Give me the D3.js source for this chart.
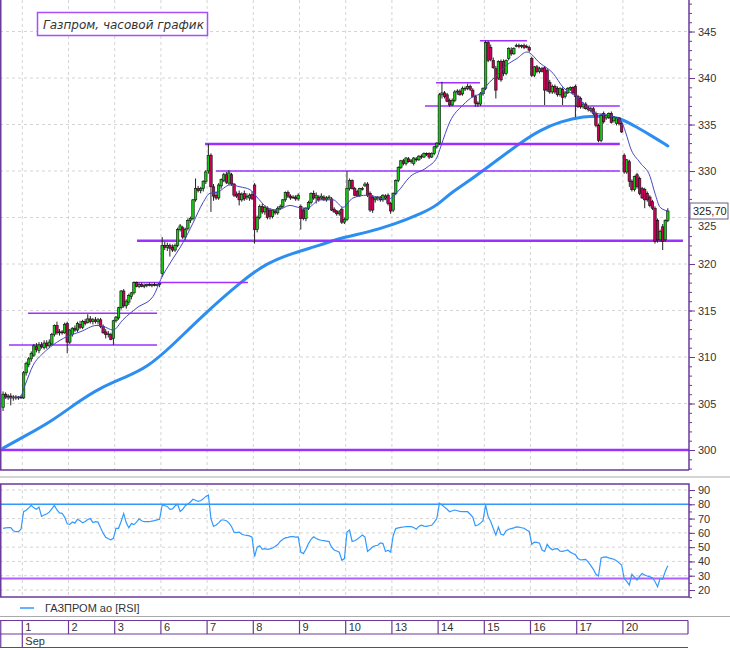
<!DOCTYPE html>
<html><head><meta charset="utf-8">
<script src="https://cdn.jsdelivr.net/npm/d3@7"></script>
<style>body{margin:0;background:#fff}svg{display:block}</style>
</head><body><svg id="c" width="730" height="650"></svg>
<script>
// ---------- DATA ----------
const titleText = "Газпром, часовой график";
const legendText = "ГАЗПРОМ ао [RSI]";
const dayLabels = ["1","2","3","6","7","8","9","10","13","14","15","16","17","20"];
const monthLabel = "Sep";
const lastPriceLabel = "325,70";
const priceTicks = [300,305,310,315,320,325,330,335,340,345];
const rsiTicks = [20,30,40,50,60,70,80,90];

// hourly candles [open, high, low, close]
const ohlcPre = [[304.6,306.3,304.2,306.0],[306.0,306.2,305.5,305.7],[305.7,306.0,305.4,305.8],[305.8,306.1,304.8,305.6],[305.6,305.9,305.3,305.7],[305.7,305.9,305.4,305.6],[305.6,305.8,305.4,305.7],[305.7,305.9,305.5,305.6]];
const ohlc01 = [[305.6,308.5,305.5,308.3],[308.3,309.5,308.0,309.3],[309.2,310.0,308.9,309.8],[309.8,310.6,309.5,310.4],[310.2,311.4,310.0,311.2],[311.1,311.5,310.5,310.8],[310.7,311.6,310.4,311.3],[311.3,311.6,310.9,311.1],[311.0,311.8,310.8,311.5],[311.5,311.8,310.9,311.2],[311.2,311.9,311.0,311.6],[311.4,312.6,311.3,312.4],[312.4,313.5,312.2,313.4],[313.4,313.8,312.4,312.6],[312.6,313.0,312.3,312.7],[312.7,312.9,312.4,312.6],[312.6,313.7,312.5,313.5],[313.6,313.8,310.4,311.6]];
const ohlc02 = [[311.6,313.0,311.4,312.9],[312.4,313.2,312.2,313.1],[313.1,313.4,312.7,312.9],[312.9,313.8,312.7,313.6],[313.5,313.9,313.0,313.2],[313.2,314.0,313.0,313.8],[313.8,314.1,313.4,313.6],[313.7,314.6,313.6,314.1],[314.1,314.4,313.6,313.8],[313.8,314.2,313.5,314.0],[314.0,314.3,313.6,313.8],[313.8,314.2,313.5,314.0],[314.0,314.2,313.1,313.3],[313.3,313.5,312.5,312.6],[312.7,313.0,312.0,312.4],[312.4,312.8,312.1,312.5],[312.4,312.6,311.8,311.9],[312.0,314.0,311.3,313.9]];
const ohlc03 = [[313.9,314.4,313.7,314.3],[314.2,315.4,314.0,315.3],[315.3,317.2,315.1,317.1],[317.1,317.3,315.3,315.5],[315.5,316.2,315.2,316.0],[315.9,316.8,315.6,316.6],[316.5,317.0,316.2,316.9],[316.9,318.1,316.7,318.0],[318.0,318.1,317.5,317.6],[317.6,318.0,317.4,317.8],[317.8,318.0,317.5,317.6],[317.6,317.9,317.4,317.7],[317.7,317.9,317.5,317.8],[317.8,318.0,317.6,317.7],[317.7,317.9,317.5,317.8],[317.8,318.0,317.6,317.7],[317.7,317.9,317.6,317.8],[317.8,318.0,317.5,317.9]];
const ohlc06 = [[319.0,322.9,318.6,322.0],[322.0,322.4,321.5,321.8],[321.8,322.3,321.4,322.0],[322.0,322.2,320.8,321.7],[321.8,322.1,321.3,321.5],[321.5,322.2,321.3,322.0],[322.0,323.9,321.8,323.7],[323.7,324.3,323.5,324.1],[323.9,324.1,322.7,322.9],[322.9,323.9,322.6,323.7],[323.8,324.9,323.6,324.7],[324.7,325.1,324.4,324.9],[324.9,327.0,324.7,326.9],[326.9,329.2,326.7,328.1],[328.1,328.4,327.7,327.9],[327.9,328.3,327.6,328.1],[328.1,329.0,327.8,328.9],[328.9,330.1,328.6,329.9]];
const ohlc07 = [[330.0,332.9,329.7,331.7],[331.7,331.9,325.6,328.3],[328.3,328.6,326.8,327.3],[327.4,327.8,326.9,327.1],[327.1,328.7,326.9,328.5],[328.4,329.2,328.1,329.1],[329.0,329.8,328.8,329.6],[329.6,329.9,328.6,328.8],[328.7,330.1,328.5,329.8],[329.6,329.8,328.4,328.6],[328.6,328.7,327.2,327.4],[327.5,327.8,327.1,327.3],[327.6,327.9,326.3,326.9],[326.9,327.7,326.7,327.5],[327.6,327.9,326.8,327.0],[327.2,327.6,326.9,327.3],[327.1,327.6,326.8,327.4],[327.5,327.8,326.9,327.0]];
const ohlc08 = [[328.5,328.7,322.2,323.7],[323.7,325.2,323.4,325.0],[325.0,326.4,324.8,326.2],[326.2,326.5,325.4,325.6],[325.6,326.3,325.3,326.1],[326.0,326.2,324.8,325.0],[325.8,326.0,324.8,325.1],[325.1,325.9,324.9,325.8],[325.7,325.9,325.3,325.5],[325.5,326.2,325.3,326.0],[326.0,326.4,325.8,326.2],[326.2,327.0,326.0,326.9],[326.9,327.8,326.7,327.7],[327.7,327.9,327.1,327.3],[327.3,327.5,326.9,327.1],[327.2,327.4,327.0,327.2],[327.2,327.4,326.8,327.0],[327.0,327.6,326.8,327.4]];
const ohlc09 = [[326.2,326.4,323.7,324.9],[325.8,326.0,324.7,324.9],[324.9,326.1,324.6,326.0],[326.0,326.8,325.8,326.6],[326.6,327.7,326.4,327.6],[327.6,327.9,326.9,327.1],[327.1,327.7,326.5,327.4],[327.2,327.4,326.7,326.9],[327.1,327.6,326.9,327.3],[327.2,327.4,326.8,326.9],[326.9,327.3,326.7,327.1],[327.1,327.4,326.9,327.2],[327.0,327.2,325.7,325.8],[325.9,326.1,325.5,325.6],[325.7,325.8,325.2,325.4],[325.4,325.8,325.2,325.6],[325.9,326.1,324.3,324.5],[324.5,325.0,324.3,324.8]];
const ohlc10 = [[324.8,330.0,324.6,328.1],[328.1,329.2,327.9,329.0],[329.0,329.1,328.0,328.1],[328.1,328.3,327.3,327.4],[327.8,328.0,327.2,327.3],[327.4,328.2,327.2,328.1],[328.0,328.3,327.9,328.1],[328.4,328.8,328.3,328.6],[328.6,328.8,327.2,327.4],[327.6,327.8,325.6,325.8],[327.2,327.4,325.5,325.8],[326.9,327.2,326.6,327.1],[327.1,327.3,326.8,327.2],[327.2,327.3,326.7,326.9],[326.9,327.5,326.7,327.4],[327.1,327.5,326.9,327.3],[327.4,327.6,326.3,326.5],[326.5,326.7,325.4,325.7]];
const ohlc13 = [[325.8,327.7,325.6,327.6],[327.6,329.1,327.4,329.0],[329.0,330.5,328.8,330.4],[330.4,331.2,330.2,331.1],[331.1,331.3,330.6,330.8],[330.8,331.5,330.6,331.4],[331.3,331.5,330.9,331.0],[331.0,331.3,330.8,331.1],[330.8,331.5,330.6,331.4],[331.3,331.5,331.0,331.2],[331.2,331.7,331.1,331.6],[331.6,331.8,331.3,331.5],[331.5,332.0,331.4,331.9],[331.9,332.0,331.6,331.8],[331.9,332.0,331.3,331.5],[331.5,332.0,331.4,331.9],[331.9,332.7,331.7,332.6],[332.6,333.1,332.4,333.0]];
const ohlc14 = [[333.0,338.4,332.8,338.2],[338.2,339.6,337.8,338.4],[338.4,338.6,337.8,338.0],[338.2,338.4,337.4,337.5],[337.6,337.8,336.9,337.1],[337.1,337.8,337.0,337.6],[337.6,338.7,337.4,338.5],[338.5,338.8,338.2,338.6],[338.6,338.8,338.1,338.2],[338.3,339.1,338.1,338.9],[338.9,339.1,338.6,338.9],[338.9,339.4,338.7,339.1],[339.1,339.3,338.6,338.8],[338.7,338.9,337.9,338.0],[338.0,338.2,336.9,337.3],[337.3,337.5,336.9,337.2],[337.2,338.5,337.0,338.3],[338.3,339.0,338.1,338.9]];
const ohlc15 = [[338.9,344.0,338.7,343.8],[343.8,344.0,341.7,341.9],[343.3,343.6,341.8,342.0],[341.9,342.2,341.0,341.1],[341.0,341.3,337.8,338.7],[340.0,341.9,339.8,341.8],[341.8,342.0,339.6,339.8],[341.8,342.0,340.2,340.5],[340.5,342.0,340.3,341.9],[342.1,343.3,341.9,343.2],[343.0,343.3,342.4,342.6],[342.6,343.3,342.5,343.2],[343.4,343.7,343.3,343.5],[343.5,343.7,343.2,343.4],[343.4,343.6,343.2,343.5],[343.5,343.7,343.1,343.3],[343.4,343.6,343.2,343.4],[343.3,343.5,342.8,343.0]];
const ohlc16 = [[342.1,342.3,340.1,340.3],[340.3,341.3,340.1,341.2],[341.2,341.4,340.5,340.7],[340.7,341.2,340.5,341.0],[341.0,341.2,340.6,340.7],[341.1,341.3,337.1,338.7],[340.8,341.0,338.5,338.7],[339.5,339.8,338.3,338.5],[338.5,339.3,338.3,339.1],[339.1,339.3,338.3,338.5],[338.9,339.1,338.0,338.2],[338.2,339.0,338.0,338.9],[338.8,339.0,337.1,337.9],[338.0,338.6,337.8,338.4],[338.4,339.0,338.3,338.9],[338.8,339.1,338.6,339.0],[339.0,339.1,338.2,338.4],[339.1,339.3,335.8,338.0]];
const ohlc17 = [[338.0,338.2,336.8,336.9],[337.8,338.0,336.7,336.9],[336.9,337.4,336.7,337.2],[337.2,337.4,336.6,336.7],[336.8,337.0,336.4,336.6],[336.5,336.9,336.3,336.7],[336.7,336.9,336.0,336.2],[336.2,336.4,334.7,334.9],[334.9,335.1,333.1,333.3],[333.3,336.2,333.1,336.0],[336.2,336.4,335.1,335.3],[335.7,336.1,335.5,336.0],[335.8,336.3,335.6,336.2],[336.2,336.4,335.1,335.2],[335.4,335.9,335.2,335.8],[335.1,335.8,334.9,335.7],[335.7,335.8,334.9,335.1],[335.1,335.3,334.1,334.2]];
const ohlc20 = [[331.7,331.9,329.7,329.9],[329.9,331.3,329.7,331.2],[331.0,331.2,328.3,328.9],[328.9,329.1,327.8,328.0],[328.0,329.5,327.8,329.4],[329.6,329.8,328.1,328.3],[329.2,329.4,327.4,327.6],[328.1,328.3,327.0,327.1],[328.0,328.2,326.0,326.9],[327.6,327.8,326.7,326.9],[327.2,327.4,326.1,326.3],[326.7,326.9,325.8,326.0],[326.0,326.2,322.2,322.4],[324.7,324.9,322.3,322.6],[322.6,323.7,322.4,323.5],[324.0,324.3,321.5,322.4],[322.6,324.8,322.4,324.7],[324.7,326.0,324.5,325.7]];

// RSI per candle
const rsiPre = [63.2,63.5,63.6,63.6,61.5,60.8,60.8,62.5];
const rsi01 = [74.8,75.8,77.5,79.3,77.5,76.5,78.0,71.5,72.5,73.2,74.5,76.8,79.2,76.0,74.0,73.7,71.0,66.3];
const rsi02 = [65.9,67.6,66.8,69.5,68.5,67.0,68.0,69.4,70.0,67.2,67.8,67.5,63.5,59.8,56.9,55.9,55.2,56.2];
const rsi03 = [63.2,63.2,68.0,73.5,67.0,63.5,66.5,65.8,67.5,69.8,68.5,67.8,67.8,67.8,68.2,68.6,69.1,69.5];
const rsi06 = [79.5,79.0,78.5,76.5,76.8,78.8,80.0,75.0,76.5,79.0,80.2,81.6,83.5,82.8,82.0,82.5,83.8,85.5];
const rsi07 = [86.5,70.0,64.5,65.5,67.0,69.0,69.0,68.5,67.0,64.5,60.5,60.2,60.5,59.0,58.5,58.2,57.9,57.0];
const rsi08 = [43.3,50.0,51.0,48.5,49.0,48.5,48.8,49.4,50.5,51.8,54.0,55.5,56.5,56.8,57.3,57.3,57.0,57.2];
const rsi09 = [46.5,45.5,48.5,52.5,55.5,57.3,56.0,55.3,54.8,54.5,54.2,53.9,50.0,48.0,47.3,46.5,40.8,42.0];
const rsi10 = [60.5,62.0,54.0,54.5,55.5,57.0,58.5,57.0,47.0,48.5,50.2,51.0,51.3,53.0,52.5,47.0,47.8,46.5];
const rsi13 = [58.0,63.0,63.5,63.8,64.1,64.3,64.3,64.3,63.8,62.6,64.5,65.4,64.7,64.5,65.0,65.3,67.5,70.0];
const rsi14 = [80.7,79.5,78.0,76.5,74.8,75.5,76.0,75.5,75.0,74.8,74.8,74.8,73.0,71.0,65.0,65.5,66.8,68.5];
const rsi15 = [79.5,71.5,68.0,63.0,58.5,64.0,59.0,58.5,61.5,62.5,63.0,63.5,64.2,64.0,63.6,63.2,62.0,61.0];
const rsi16 = [52.0,53.5,53.3,52.8,48.0,47.0,52.0,49.5,48.2,48.8,49.0,47.2,47.0,47.5,48.0,46.5,45.5,44.8];
const rsi17 = [42.0,41.0,41.2,41.4,39.5,37.0,34.5,31.0,29.8,42.5,43.0,43.2,42.5,42.0,41.5,40.5,39.0,37.5];
const rsi20 = [28.0,26.0,23.5,31.0,29.0,27.0,29.5,31.5,30.5,29.8,29.2,28.6,26.0,22.3,28.0,27.5,33.0,37.0];

// moving averages: [candle index, value]
const maShort = [[0,305.6],[6.6,305.7],[8.6,307.0],[11.7,309.1],[15.6,310.4],[19.5,311.3],[24.9,312.2],[30,312.7],[36.6,313.4],[39,313.3],[42.9,312.9],[46.7,314.0],[52.2,315.3],[58.4,316.5],[61.9,318.6],[65.1,320.1],[70.1,322.3],[74,324.4],[77.9,326.6],[80.6,327.6],[83.4,327.7],[88.4,328.5],[92.3,328.3],[96.2,328.0],[98.9,327.2],[102.8,326.1],[106.7,325.8],[111.8,326.3],[114.9,326.1],[118.4,326.0],[123.5,326.9],[128.6,326.9],[132.5,326.1],[136.3,327.1],[141.8,327.4],[145.7,327.2],[149.6,326.9],[153.5,327.7],[158.6,329.4],[165.2,330.4],[169.1,331.5],[170.5,332.6],[174.1,335.3],[179.2,337.1],[183.1,338.0],[186.6,338.4],[188.5,339.2],[192.4,340.3],[196.3,341.4],[200.2,342.1],[204.1,342.8],[209.2,341.6],[214.3,340.5],[218.2,339.0],[223.6,338.0],[229.8,336.3],[235.3,336.0],[240.4,335.5],[243.1,333.7],[244.3,332.6],[248.2,330.9],[252.1,329.4],[254,327.6],[256,326.1],[259,325.7]];
const maLong = [[0,300.2],[8.6,301.5],[19.5,303.2],[28.8,305.1],[37.8,306.7],[48.3,307.9],[56.1,308.9],[65.1,311.0],[76.7,314.2],[93.5,318.3],[102.8,320.1],[113,321.2],[123.5,322.0],[131.3,322.8],[141.8,323.4],[151.9,324.2],[163.6,325.5],[169.1,326.3],[174.1,327.6],[182,329.0],[193.6,331.4],[201.4,333.0],[209.2,334.4],[217,335.3],[226,335.9],[235.3,335.9],[240.4,335.7],[247,334.7],[253.2,333.7],[259,332.7]];

// support / resistance levels: [from index, to index, price]
const levelsThick = [[-1,268,300.0],[52.7,265.4,322.5],[79.2,240.8,332.9]];
const levelsThin = [[2.8,60.5,311.3],[10.2,60.5,314.7],[51.1,95.9,318.0],[83.4,240.8,330.0],[164.9,240.8,337.0],[169.2,186.3,339.5],[186.3,204.6,344.0]];
// RSI reference levels
const rsiUpper = 80, rsiLower = 28;

// ---------- BUILD ----------
const ohlcAll = [].concat(ohlcPre,ohlc01,ohlc02,ohlc03,ohlc06,ohlc07,ohlc08,ohlc09,ohlc10,ohlc13,ohlc14,ohlc15,ohlc16,ohlc17,ohlc20);
const rsiAll = [].concat(rsiPre,rsi01,rsi02,rsi03,rsi06,rsi07,rsi08,rsi09,rsi10,rsi13,rsi14,rsi15,rsi16,rsi17,rsi20);
const candles = ohlcAll.map((d,i)=>({i,o:d[0],h:d[1],l:d[2],c:d[3]}));
const preCount = ohlcPre.length, perDay = ohlc01.length;

const svg = d3.select("#c");
const W = 730, axisX = 689;
const dayX0 = 22.3, dayW = 46.2;
const x = d3.scaleLinear().domain([preCount, preCount + perDay*dayLabels.length]).range([dayX0, dayX0 + dayW*dayLabels.length]);
const cx = i => x(i + 0.5);
const y = d3.scaleLinear().domain([297.85, 348.39]).range([470, 0]);
const yr = d3.scaleLinear().domain([20, 90]).range([590, 490]);

const purple = "#6a3a9c", violet = "#9b30ff", gridC = "#d4d4d4";
const font = "Liberation Sans, Arial, sans-serif";
const dayStarts = dayLabels.map((d,k)=>preCount + perDay*k);

// main panel grid
const gMain = svg.append("g");
gMain.selectAll(".hg").data(priceTicks).join("line")
  .attr("x1",0).attr("x2",axisX).attr("y1",d=>y(d)).attr("y2",d=>y(d))
  .attr("stroke",gridC).attr("stroke-dasharray","3,3");
gMain.selectAll(".vg").data(dayStarts).join("line")
  .attr("x1",d=>x(d)).attr("x2",d=>x(d)).attr("y1",0).attr("y2",470)
  .attr("stroke",gridC).attr("stroke-dasharray","3,3");

svg.append("clipPath").attr("id","mainClip").append("rect").attr("x",0).attr("y",0).attr("width",axisX).attr("height",470);
const plot = svg.append("g").attr("clip-path","url(#mainClip)");

// long MA
const lineFn = d3.line().x(d=>cx(d[0])).y(d=>y(d[1])).curve(d3.curveMonotoneX);
const lineSmooth = d3.line().x(d=>cx(d[0])).y(d=>y(d[1])).curve(d3.curveBasis);
plot.append("path").attr("d",lineSmooth(maLong)).attr("fill","none").attr("stroke","#2b8ef0").attr("stroke-width",3).attr("stroke-linecap","round");

// levels
plot.selectAll(".lt").data(levelsThick).join("line")
  .attr("x1",d=>x(d[0])).attr("x2",d=>x(d[1])).attr("y1",d=>y(d[2])).attr("y2",d=>y(d[2]))
  .attr("stroke",violet).attr("stroke-width",2.6);
plot.selectAll(".ln").data(levelsThin).join("line")
  .attr("x1",d=>x(d[0])).attr("x2",d=>x(d[1])).attr("y1",d=>y(d[2])).attr("y2",d=>y(d[2]))
  .attr("stroke",violet).attr("stroke-width",1.5);

// candles
const cg = plot.append("g");
cg.selectAll(".w").data(candles).join("line")
  .attr("x1",d=>cx(d.i)).attr("x2",d=>cx(d.i)).attr("y1",d=>y(d.h)).attr("y2",d=>y(d.l))
  .attr("stroke","#222").attr("stroke-width",1);
cg.selectAll(".b").data(candles).join("rect")
  .attr("x",d=>cx(d.i)-1.25).attr("width",2.5)
  .attr("y",d=>y(Math.max(d.o,d.c)))
  .attr("height",d=>Math.max(0.8, Math.abs(y(d.o)-y(d.c))))
  .attr("fill",d=>d.c>=d.o?"#14c814":"#c8005a")
  .attr("stroke","#111").attr("stroke-width",0.6);

// short MA
plot.append("path").attr("d",lineFn(maShort)).attr("fill","none").attr("stroke","#4646c4").attr("stroke-width",1);

// panel borders
svg.append("line").attr("x1",0.75).attr("x2",0.75).attr("y1",0).attr("y2",470).attr("stroke",purple).attr("stroke-width",1.5);
svg.append("line").attr("x1",0).attr("x2",axisX).attr("y1",470).attr("y2",470).attr("stroke",purple).attr("stroke-width",1.5);
svg.append("line").attr("x1",0).attr("x2",W).attr("y1",477).attr("y2",477).attr("stroke","#aaa").attr("stroke-width",1);

// right price axis
const lp = ohlc20[ohlc20.length-1][3];
const axMinor = d3.axisRight(y).tickValues(d3.range(298,349,1)).tickSize(3).tickFormat("");
const axMajor = d3.axisRight(y).tickValues(priceTicks).tickSize(6).tickPadding(3).tickFormat(d3.format("d"));
[axMinor, axMajor].forEach(a=>{
  const g = svg.append("g").attr("transform",`translate(${axisX},0)`).call(a);
  g.select(".domain").remove();
  g.selectAll("line").attr("stroke",purple);
  g.selectAll("text").attr("font-family",font).attr("font-size",11).attr("fill","#333")
    .attr("dy",d=>Math.abs(y(d)-y(lp))<12 ? "1.05em" : "0.32em");
});
svg.append("line").attr("x1",axisX).attr("x2",axisX).attr("y1",0).attr("y2",470).attr("stroke",purple).attr("stroke-width",1.5);

// last price box
svg.append("rect").attr("x",690).attr("y",y(lp)-8).attr("width",38).attr("height",16).attr("fill","#fff").attr("stroke","#6d6080");
svg.append("text").attr("x",693).attr("y",y(lp)+4).text(lastPriceLabel).attr("font-family",font).attr("font-size",11).attr("fill","#222");

// title
svg.append("rect").attr("x",37.5).attr("y",12.5).attr("width",170).attr("height",23).attr("fill","#fff").attr("stroke","#a64dff").attr("stroke-width",1.5);
svg.append("text").attr("x",43).attr("y",28.5).text(titleText).attr("font-family","DejaVu Sans, sans-serif").attr("font-style","italic").attr("font-size",12).attr("fill","#333");

// ---------- RSI panel ----------
const rTop = 484, rBot = 597;
const gR = svg.append("g");
gR.selectAll(".rh").data(rsiTicks).join("line")
  .attr("x1",0).attr("x2",axisX).attr("y1",d=>yr(d)).attr("y2",d=>yr(d))
  .attr("stroke",gridC).attr("stroke-dasharray","3,3");
gR.selectAll(".rv").data(dayStarts).join("line")
  .attr("x1",d=>x(d)).attr("x2",d=>x(d)).attr("y1",rTop).attr("y2",rBot)
  .attr("stroke",gridC).attr("stroke-dasharray","3,3");
gR.append("line").attr("x1",0).attr("x2",axisX).attr("y1",yr(rsiUpper)).attr("y2",yr(rsiUpper)).attr("stroke","#3399ff").attr("stroke-width",1.5);
gR.append("line").attr("x1",0).attr("x2",axisX).attr("y1",yr(rsiLower)).attr("y2",yr(rsiLower)).attr("stroke","#b060ff").attr("stroke-width",2);
const rLine = d3.line().x((d,i)=>cx(i)).y(d=>yr(d));
gR.append("path").attr("d",rLine(rsiAll)).attr("fill","none").attr("stroke","#3399ff").attr("stroke-width",1.2);
gR.append("rect").attr("x",0.75).attr("y",rTop).attr("width",axisX-0.75).attr("height",rBot-rTop).attr("fill","none").attr("stroke",purple).attr("stroke-width",1.5);
const rAxMinor = d3.axisRight(yr).tickValues(d3.range(15,95,5)).tickSize(3).tickFormat("");
const rAxMajor = d3.axisRight(yr).tickValues(rsiTicks).tickSize(6).tickPadding(3).tickFormat(d3.format("d"));
[rAxMinor, rAxMajor].forEach(a=>{
  const g = svg.append("g").attr("transform",`translate(${axisX},0)`).call(a);
  g.select(".domain").remove();
  g.selectAll("line").attr("stroke",purple);
  g.selectAll("text").attr("font-family",font).attr("font-size",11).attr("fill","#333");
});

// legend
svg.append("line").attr("x1",20).attr("x2",34).attr("y1",608).attr("y2",608).attr("stroke","#3399ff").attr("stroke-width",1.5);
svg.append("text").attr("x",45).attr("y",612).text(legendText).attr("font-family",font).attr("font-size",11).attr("fill","#333");
svg.append("line").attr("x1",0).attr("x2",W).attr("y1",616.5).attr("y2",616.5).attr("stroke","#aaa");

// ---------- date axis ----------
const dA = svg.append("g");
const row1 = 620.5, row2 = 634, row3 = 647.5;
[row1,row2,row3].forEach(yy=>dA.append("line").attr("x1",0).attr("x2",axisX - 1).attr("y1",yy).attr("y2",yy).attr("stroke",purple).attr("stroke-width",1.2));
dA.append("line").attr("x1",0.75).attr("x2",0.75).attr("y1",row1).attr("y2",row3).attr("stroke",purple).attr("stroke-width",1.2);
dA.append("line").attr("x1",dayX0).attr("x2",dayX0).attr("y1",row1).attr("y2",row3).attr("stroke",purple).attr("stroke-width",1.2);
dA.selectAll(".ds").data(dayStarts.slice(1)).join("line")
  .attr("x1",d=>x(d)).attr("x2",d=>x(d)).attr("y1",row1).attr("y2",row2).attr("stroke",purple).attr("stroke-width",1.2);
dA.append("line").attr("x1",axisX-1).attr("x2",axisX-1).attr("y1",row1).attr("y2",row2).attr("stroke",purple).attr("stroke-width",1.2);
dA.selectAll(".dl").data(dayLabels).join("text")
  .attr("x",(d,k)=>x(dayStarts[k])+3).attr("y",631).text(d=>d)
  .attr("font-family",font).attr("font-size",11).attr("fill","#333");
dA.append("text").attr("x",dayX0+3).attr("y",645).text(monthLabel).attr("font-family",font).attr("font-size",11).attr("fill","#333");
</script></body></html>
